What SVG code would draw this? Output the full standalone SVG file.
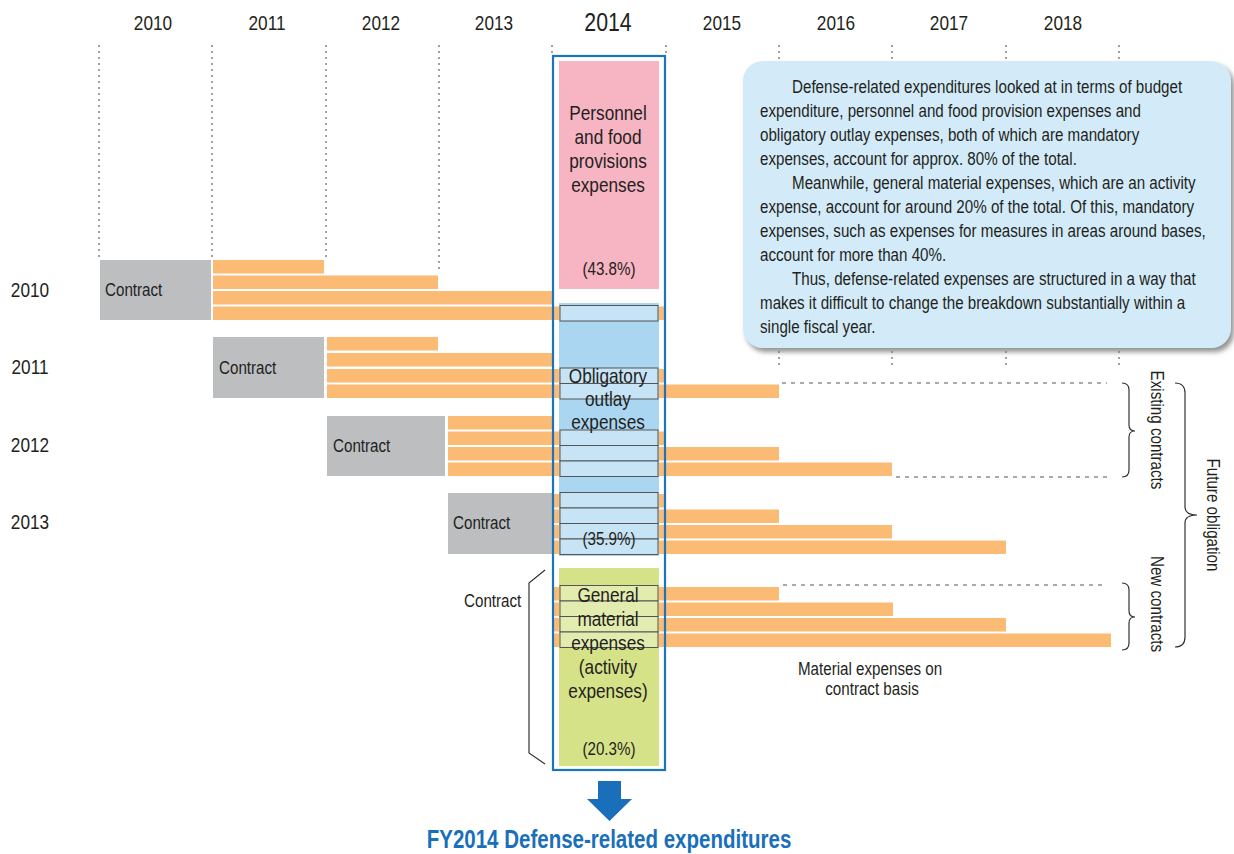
<svg xmlns="http://www.w3.org/2000/svg" width="1234" height="854" viewBox="0 0 1234 854">
<defs>
<style>
text{font-family:'Liberation Sans',Arial,sans-serif;fill:#231f20}
.yr{font-size:21px;text-anchor:middle}
.lbl{font-size:18.5px}
.mid{text-anchor:middle}
.big{font-size:21px;text-anchor:middle}
.pct{font-size:18.5px;text-anchor:middle}
.bx{font-size:18.5px}
.bar{fill:#fbbb74}
.ct{fill:#bcbec0}
.sb{fill:#c6e4f6;stroke:#555;stroke-width:1}
.sg{fill:#e2ecae;stroke:#555;stroke-width:1}
.vd{stroke:#444;stroke-width:1;stroke-dasharray:2 4;fill:none}
.hd{stroke:#555;stroke-width:1;stroke-dasharray:4 5;fill:none}
.br{stroke:#333;stroke-width:1.2;fill:none}
</style>
<filter id="sh" x="-5%" y="-5%" width="115%" height="120%">
<feDropShadow dx="3" dy="4" stdDeviation="2.5" flood-color="#777" flood-opacity="0.8"/>
</filter>
</defs>
<rect width="1234" height="854" fill="#fff"/>

<g id="connectors">
<line class="vd" x1="99" y1="45" x2="99" y2="258"/>
<line class="vd" x1="212" y1="45" x2="212" y2="258"/>
<line class="vd" x1="326" y1="45" x2="326" y2="258"/>
<line class="vd" x1="439" y1="45" x2="439" y2="273"/>
<line class="vd" x1="552" y1="45" x2="552" y2="55"/>
<line class="vd" x1="666" y1="45" x2="666" y2="55"/>
<line class="vd" x1="779" y1="45" x2="779" y2="366"/>
<line class="vd" x1="892" y1="45" x2="892" y2="366"/>
<line class="vd" x1="1006" y1="45" x2="1006" y2="366"/>
<line class="vd" x1="1119" y1="45" x2="1119" y2="366"/>
<line class="hd" x1="782" y1="383" x2="1107" y2="383"/>
<line class="hd" x1="896" y1="477" x2="1107" y2="477"/>
<line class="hd" x1="783" y1="585" x2="1107" y2="585"/>
</g>

<g id="years">
<text class="yr" transform="translate(153,30) scale(.82,1)">2010</text>
<text class="yr" transform="translate(267,30) scale(.82,1)">2011</text>
<text class="yr" transform="translate(381,30) scale(.82,1)">2012</text>
<text class="yr" transform="translate(494,30) scale(.82,1)">2013</text>
<text class="yr" transform="translate(608,31) scale(.82,1)" style="font-size:26px">2014</text>
<text class="yr" transform="translate(722,30) scale(.82,1)">2015</text>
<text class="yr" transform="translate(836,30) scale(.82,1)">2016</text>
<text class="yr" transform="translate(949,30) scale(.82,1)">2017</text>
<text class="yr" transform="translate(1063,30) scale(.82,1)">2018</text>
</g>

<g id="row-labels">
<text class="yr" transform="translate(30,297) scale(.82,1)">2010</text>
<text class="yr" transform="translate(30,374) scale(.82,1)">2011</text>
<text class="yr" transform="translate(30,452) scale(.82,1)">2012</text>
<text class="yr" transform="translate(30,529) scale(.82,1)">2013</text>
</g>

<g id="row-2010">
<rect class="ct" x="100" y="260" width="111" height="60"/>
<text class="lbl" transform="translate(105,296) scale(.82,1)">Contract</text>
<rect class="bar" x="213" y="260" width="111" height="13.5"/>
<rect class="bar" x="213" y="275.5" width="225" height="13.5"/>
<rect class="bar" x="213" y="291" width="339" height="13.5"/>
<rect class="bar" x="213" y="306.5" width="453" height="13.5"/>
</g>

<g id="row-2011">
<rect class="ct" x="213" y="337" width="111" height="61"/>
<text class="lbl" transform="translate(219,374) scale(.82,1)">Contract</text>
<rect class="bar" x="327" y="337" width="111" height="13.5"/>
<rect class="bar" x="327" y="353" width="225" height="13.5"/>
<rect class="bar" x="327" y="369" width="339" height="13.5"/>
<rect class="bar" x="327" y="384.5" width="452" height="13.5"/>
</g>

<g id="row-2012">
<rect class="ct" x="327" y="416" width="118" height="60"/>
<text class="lbl" transform="translate(333,452) scale(.82,1)">Contract</text>
<rect class="bar" x="448" y="416" width="104" height="13.5"/>
<rect class="bar" x="448" y="431.5" width="218" height="13.5"/>
<rect class="bar" x="448" y="447" width="331" height="13.5"/>
<rect class="bar" x="448" y="462.5" width="444" height="13.5"/>
</g>

<g id="row-2013">
<rect class="ct" x="448" y="493" width="104" height="61"/>
<text class="lbl" transform="translate(453,529) scale(.82,1)">Contract</text>
<rect class="bar" x="552" y="494" width="114" height="13.5"/>
<rect class="bar" x="552" y="509.5" width="227" height="13.5"/>
<rect class="bar" x="552" y="525" width="340" height="13.5"/>
<rect class="bar" x="552" y="540.5" width="454" height="13.5"/>
</g>

<g id="row-2014-new">
<rect class="bar" x="553" y="587" width="226" height="13.5"/>
<rect class="bar" x="553" y="602.5" width="340" height="13.5"/>
<rect class="bar" x="553" y="618" width="453" height="13.5"/>
<rect class="bar" x="553" y="633.5" width="558" height="13.5"/>
</g>

<g id="fy2014-column">
<rect x="553" y="56" width="112" height="714" fill="none" stroke="#1b75bc" stroke-width="2.2"/>
</g>

<g id="personnel">
<rect x="559" y="61" width="100" height="228" fill="#f7b4c3"/>
<text class="big" transform="translate(608,120) scale(.82,1)">Personnel</text>
<text class="big" transform="translate(608,144) scale(.82,1)">and food</text>
<text class="big" transform="translate(608,168) scale(.82,1)">provisions</text>
<text class="big" transform="translate(608,192) scale(.82,1)">expenses</text>
<text class="pct" transform="translate(609,275) scale(.82,1)">(43.8%)</text>
</g>

<g id="obligatory">
<rect x="559" y="303" width="100" height="253" fill="#abd6f1"/>
<rect class="sb" x="560" y="305.5" width="98" height="15.5"/>
<rect class="sb" x="560" y="368" width="98" height="15.5"/>
<rect class="sb" x="560" y="383.5" width="98" height="15.5"/>
<rect class="sb" x="560" y="430" width="98" height="15.5"/>
<rect class="sb" x="560" y="445.5" width="98" height="15.5"/>
<rect class="sb" x="560" y="461" width="98" height="15.5"/>
<rect class="sb" x="560" y="492.5" width="98" height="15.5"/>
<rect class="sb" x="560" y="508" width="98" height="15.5"/>
<rect class="sb" x="560" y="523.5" width="98" height="15.5"/>
<rect class="sb" x="560" y="539" width="98" height="15.5"/>
<text class="big" transform="translate(608,383) scale(.82,1)">Obligatory</text>
<text class="big" transform="translate(608,406) scale(.82,1)">outlay</text>
<text class="big" transform="translate(608,429) scale(.82,1)">expenses</text>
<text class="pct" transform="translate(609,545) scale(.82,1)">(35.9%)</text>
</g>

<g id="general">
<rect x="559" y="568" width="100" height="198" fill="#d6e288"/>
<rect class="sg" x="560" y="585.5" width="98" height="15.5"/>
<rect class="sg" x="560" y="601" width="98" height="15.5"/>
<rect class="sg" x="560" y="616.5" width="98" height="15.5"/>
<rect class="sg" x="560" y="632" width="98" height="15.5"/>
<text class="big" transform="translate(608,602) scale(.82,1)">General</text>
<text class="big" transform="translate(608,626) scale(.82,1)">material</text>
<text class="big" transform="translate(608,650) scale(.82,1)">expenses</text>
<text class="big" transform="translate(608,674) scale(.82,1)">(activity</text>
<text class="big" transform="translate(608,698) scale(.82,1)">expenses)</text>
<text class="pct" transform="translate(609,755) scale(.82,1)">(20.3%)</text>
</g>

<g id="contract-bracket">
<polyline class="br" points="545,570 529,583 529,753 545,764"/>
<text class="lbl" transform="translate(464,607) scale(.82,1)">Contract</text>
</g>

<g id="material-label">
<text class="lbl mid" transform="translate(870,675) scale(.82,1)">Material expenses on</text>
<text class="lbl mid" transform="translate(872,695) scale(.82,1)">contract basis</text>
</g>

<g id="existing-contracts">
<path class="br" d="M1122,383 Q1129,383 1129,390 L1129,425 Q1129,431 1135,431 Q1129,431 1129,437 L1129,470 Q1129,477 1122,477"/>
<text class="lbl mid" transform="translate(1151,430) rotate(90) scale(.82,1)">Existing contracts</text>
</g>

<g id="new-contracts">
<path class="br" d="M1122,583 Q1129,583 1129,590 L1129,611 Q1129,617 1135,617 Q1129,617 1129,623 L1129,643 Q1129,650 1122,650"/>
<text class="lbl mid" transform="translate(1151,604) rotate(90) scale(.82,1)">New contracts</text>
</g>

<g id="future-obligation">
<path class="br" d="M1175,383 Q1185,383 1185,393 L1185,507 Q1185,515 1197,515 Q1185,515 1185,523 L1185,637 Q1185,647 1175,647"/>
<text class="lbl mid" transform="translate(1207,515) rotate(90) scale(.82,1)">Future obligation</text>
</g>

<g id="note-box">
<rect x="743" y="61" width="488" height="287" rx="20" fill="#d3ebf9" filter="url(#sh)"/>
<text class="bx" transform="translate(792,93) scale(.82,1)">Defense-related expenditures looked at in terms of budget</text>
<text class="bx" transform="translate(760,117) scale(.82,1)">expenditure, personnel and food provision expenses and</text>
<text class="bx" transform="translate(760,141) scale(.82,1)">obligatory outlay expenses, both of which are mandatory</text>
<text class="bx" transform="translate(760,165) scale(.82,1)">expenses, account for approx. 80% of the total.</text>
<text class="bx" transform="translate(792,189) scale(.82,1)">Meanwhile, general material expenses, which are an activity</text>
<text class="bx" transform="translate(760,213) scale(.82,1)">expense, account for around 20% of the total. Of this, mandatory</text>
<text class="bx" transform="translate(760,237) scale(.82,1)">expenses, such as expenses for measures in areas around bases,</text>
<text class="bx" transform="translate(760,261) scale(.82,1)">account for more than 40%.</text>
<text class="bx" transform="translate(792,285) scale(.82,1)">Thus, defense-related expenses are structured in a way that</text>
<text class="bx" transform="translate(760,309) scale(.82,1)">makes it difficult to change the breakdown substantially within a</text>
<text class="bx" transform="translate(760,333) scale(.82,1)">single fiscal year.</text>
</g>

<g id="result">
<polygon points="598,781 621,781 621,799 632,799 609.5,821 587,799 598,799" fill="#1a6fba"/>
<text transform="translate(609,848) scale(.82,1)" text-anchor="middle" style="font-size:25px;font-weight:bold;fill:#1a6fba">FY2014 Defense-related expenditures</text>
</g>
</svg>
